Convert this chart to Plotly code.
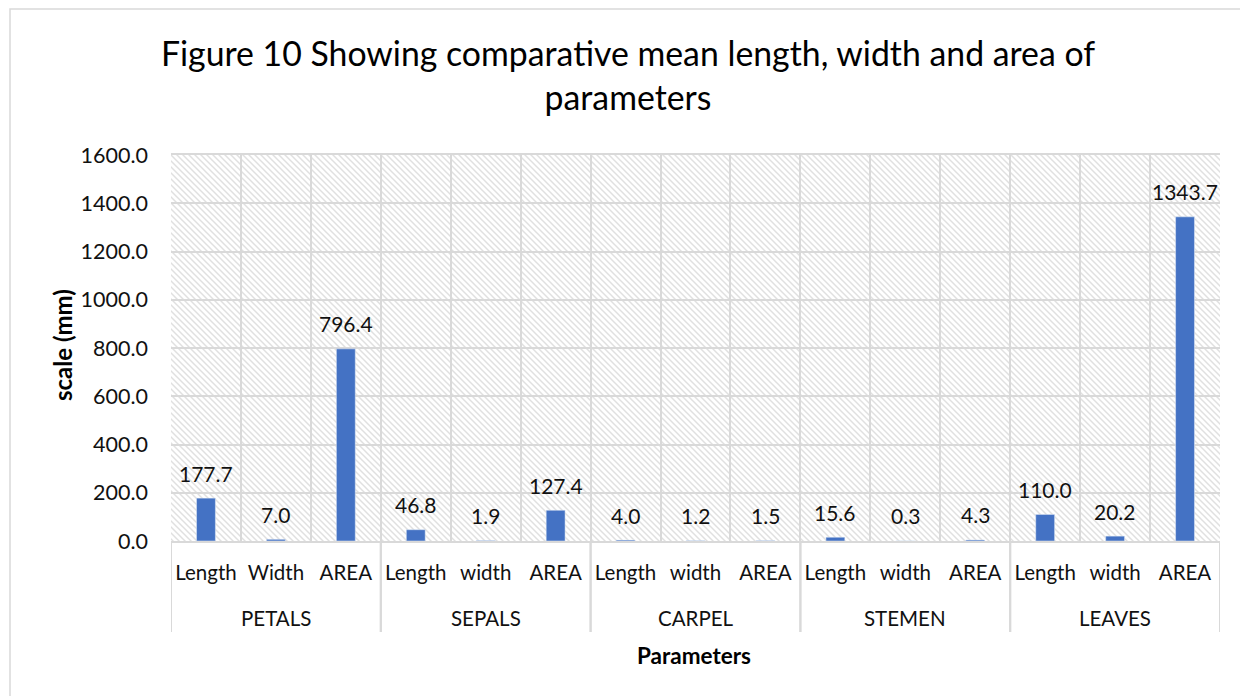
import base64
import plotly.graph_objects as go

groups = ["PETALS", "SEPALS", "CARPEL", "STEMEN", "LEAVES"]
subcats = [
    ["Length", "Width", "AREA"],
    ["Length", "width", "AREA"],
    ["Length", "width", "AREA"],
    ["Length", "width", "AREA"],
    ["Length", "width", "AREA"],
]
values = [
    [177.7, 7.0, 796.4],
    [46.8, 1.9, 127.4],
    [4.0, 1.2, 1.5],
    [15.6, 0.3, 4.3],
    [110.0, 20.2, 1343.7],
]
y_ticks = [0, 200, 400, 600, 800, 1000, 1200, 1400, 1600]

# flatten into unique category keys
keys, sub_labels, y_vals = [], [], []
for g, subs, vals in zip(groups, subcats, values):
    for s, v in zip(subs, vals):
        keys.append(f"{g}|{s}")
        sub_labels.append(s)
        y_vals.append(v)

FONT = "Lato"
GRID = "#d9d9d9"
BAR = "#4472C4"
TXT = "#111111"

# figure geometry (page has an 8px body margin)
OFF = 8
FW, FH = 1240, 688
ML, MR, MT, MB = 171 - OFF, 28, 155 - OFF, 155
PW = FW - ML - MR
PH = FH - MT - MB

# hatched background (Excel-like wide downward diagonal pattern)
svg = (
    f"<svg xmlns='http://www.w3.org/2000/svg' width='{PW}' height='{PH}' viewBox='0 0 {PW} {PH}' preserveAspectRatio='none'>"
    "<defs><pattern id='p' patternUnits='userSpaceOnUse' width='6' height='6'>"
    "<path d='M-1.5,-1.5 L7.5,7.5 M-1.5,4.5 L1.5,7.5 M4.5,-1.5 L7.5,1.5' stroke='#e0e0e0' stroke-width='1.5'/>"
    "</pattern></defs><rect width='100%' height='100%' fill='white'/><rect width='100%' height='100%' fill='url(#p)'/></svg>"
)
src = "data:image/svg+xml;base64," + base64.b64encode(svg.encode()).decode()

fig = go.Figure()
fig.add_trace(
    go.Bar(
        x=keys,
        y=y_vals,
        marker_color=BAR,
        hoverinfo="skip",
    )
)

annotations = []
# data labels
for k, v in zip(keys, y_vals):
    annotations.append(
        dict(
            x=k, y=v, xref="x", yref="y", text=f"{v:.1f}", showarrow=False,
            yanchor="middle", yshift=25,
            font=dict(family=FONT, size=21, color=TXT),
        )
    )

def px_x(page_x):
    return (page_x - OFF - ML) / PW

def px_y(page_y):
    return (FH - MB - (page_y - OFF)) / PH

shapes = [
    dict(
        type="rect", xref="paper", yref="paper",
        x0=px_x(10), x1=px_x(1247),
        y0=px_y(720), y1=px_y(9),
        line=dict(color=GRID, width=1.5), fillcolor="rgba(0,0,0,0)", layer="below",
    )
]

# group labels and dividers
idx = 0
for g, subs in zip(groups, subcats):
    n = len(subs)
    annotations.append(
        dict(
            x=idx + (n - 1) / 2, y=px_y(618), xref="x", yref="paper",
            text=g, showarrow=False, yanchor="middle",
            font=dict(family=FONT, size=20.5, color=TXT),
        )
    )
    for xb in (idx - 0.5, idx + n - 0.5):
        shapes.append(
            dict(
                type="line", xref="x", yref="paper", x0=xb, x1=xb, y0=0, y1=px_y(632),
                line=dict(color=GRID, width=2),
            )
        )
    idx += n

annotations.append(
    dict(
        x=px_x(694), y=px_y(655), xref="paper", yref="paper",
        text="<b>Parameters</b>", showarrow=False, yanchor="middle",
        font=dict(family=FONT, size=22.5, color="#000"),
    )
)
annotations.append(
    dict(
        x=px_x(62), y=px_y(345), xref="paper", yref="paper",
        text="<b>scale (mm)</b>", showarrow=False, textangle=-90,
        xanchor="center", yanchor="middle",
        font=dict(family=FONT, size=24, color="#000"),
    )
)

fig.update_layout(
    width=FW,
    height=FH,
    margin=dict(l=ML, r=MR, t=MT, b=MB),
    paper_bgcolor="white",
    plot_bgcolor="white",
    bargap=0.73,
    showlegend=False,
    title=dict(
        text="Figure 10 Showing comparative mean length, width and area of<br>parameters",
        x=(628 - OFF) / FW,
        xref="container",
        xanchor="center",
        yref="container",
        y=1 - (66 - OFF) / FH,
        yanchor="middle",
        font=dict(family=FONT, size=33.8, color="#000000"),
    ),
    font=dict(family=FONT, color=TXT),
    images=[
        dict(
            source=src, xref="paper", yref="paper", x=0, y=1, sizex=1, sizey=1,
            sizing="stretch", layer="below", xanchor="left", yanchor="top",
        )
    ],
    shapes=shapes,
    annotations=annotations,
)

fig.update_yaxes(
    range=[0, 1600],
    tickvals=y_ticks,
    tickformat=".1f",
    showgrid=True,
    gridcolor=GRID,
    gridwidth=2,
    zeroline=False,
    showline=False,
    ticks="",
    ticklabelstandoff=22,
    tickfont=dict(family=FONT, size=21.5, color=TXT),
)
fig.update_xaxes(
    type="category",
    categoryorder="array",
    categoryarray=keys,
    tickvals=keys,
    ticktext=sub_labels,
    tickangle=0,
    tickson="boundaries",
    showgrid=True,
    gridcolor=GRID,
    gridwidth=2,
    showline=True,
    linecolor=GRID,
    linewidth=2,
    mirror=True,
    ticks="",
    ticklabelstandoff=12,
    tickfont=dict(family=FONT, size=20.5, color=TXT),
    range=[-0.5, len(keys) - 0.5],
)

fig.write_html("out.html")
